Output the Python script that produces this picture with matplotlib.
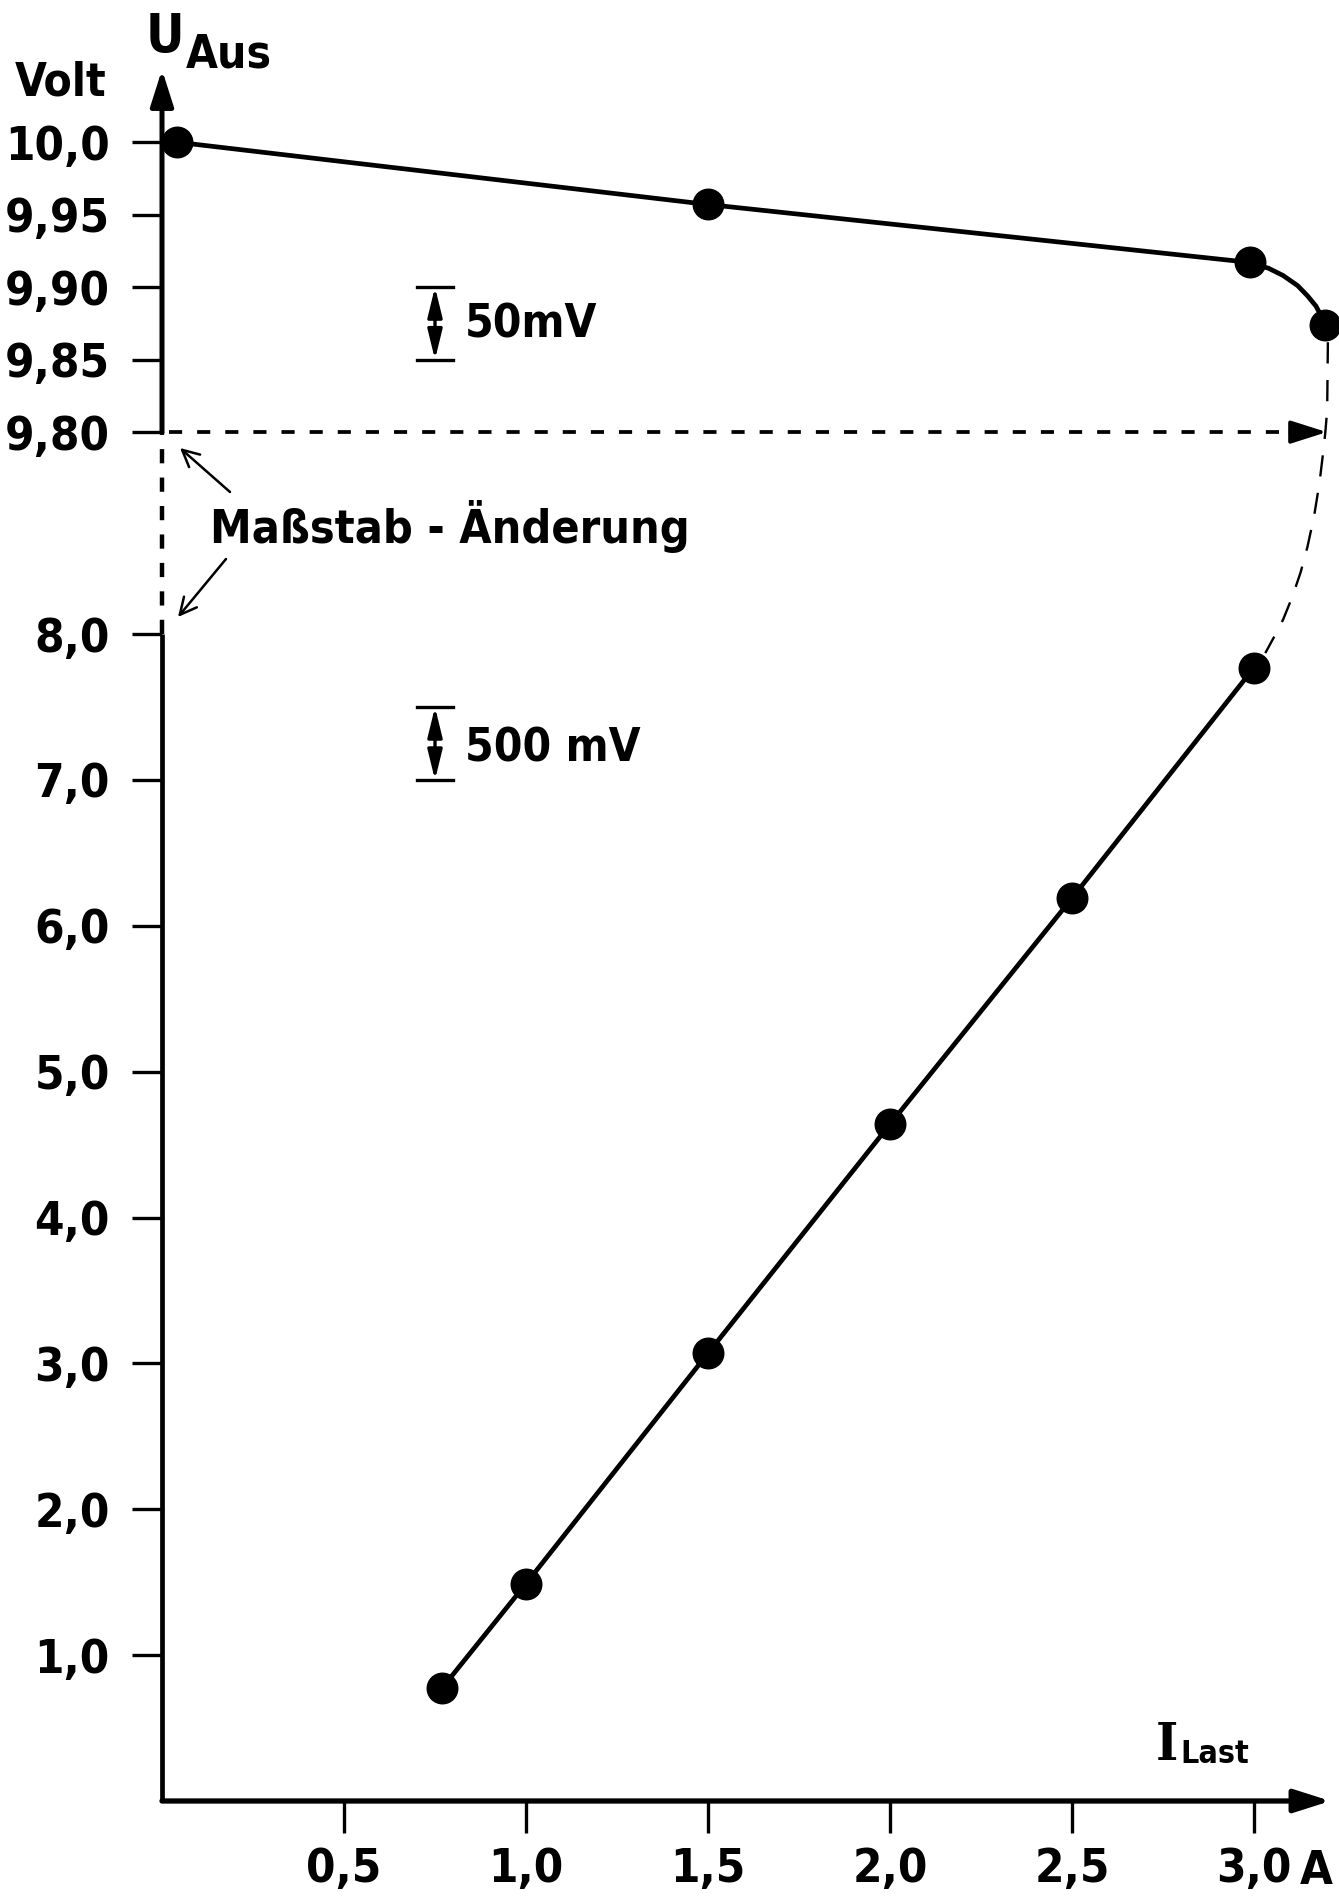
import matplotlib
matplotlib.use("Agg")
import matplotlib.pyplot as plt
from matplotlib import font_manager as fm
import numpy as np

# schmale Schrift, falls vorhanden
eintraege = fm.fontManager.ttflist
if any(f.name == 'DejaVu Sans Condensed' for f in eintraege):
    schrift = dict(family='DejaVu Sans Condensed', weight='bold')
    groesse = 1.0
elif any(f.name == 'DejaVu Sans' and f.stretch == 'condensed' for f in eintraege):
    schrift = dict(family='DejaVu Sans', stretch='condensed', weight='bold')
    groesse = 1.0
else:
    schrift = dict(family='DejaVu Sans', weight='normal')
    groesse = 1.0
plt.rcParams['font.family'] = [schrift['family'], 'DejaVu Sans']
plt.rcParams['font.weight'] = schrift['weight']
if 'stretch' in schrift:
    plt.rcParams['font.stretch'] = schrift['stretch']

# Messwerte: Ausgangsspannung U_Aus über Laststrom I_Last
# oberer Bereich (Regelung), Maßstab 50 mV
I_oben = [0.04, 1.5, 2.99, 3.195]
U_oben = [10.0, 9.957, 9.917, 9.874]
# Knick am Ende der Regelung
I_knick = [2.99, 3.04, 3.08, 3.12, 3.147, 3.17, 3.185, 3.195]
U_knick = [9.917, 9.913, 9.908, 9.901, 9.894, 9.887, 9.880, 9.874]
# unterer Bereich (Strombegrenzung), Maßstab 500 mV
I_unten = [0.77, 1.0, 1.5, 2.0, 2.5, 3.0]
U_unten = [0.776, 1.49, 3.07, 4.64, 6.19, 7.77]
# gestrichelter Übergang (geschätzt)
I_uebergang = [3.203, 3.201, 3.196, 3.190, 3.180, 3.165, 3.147, 3.128, 3.105, 3.080, 3.055, 3.031]
U_uebergang = [9.862, 9.815, 9.80, 9.62, 9.35, 9.05, 8.78, 8.55, 8.33, 8.13, 7.98, 7.87]

y_ticks = [1.0, 2.0, 3.0, 4.0, 5.0, 6.0, 7.0, 8.0, 9.80, 9.85, 9.90, 9.95, 10.0]
y_labels = ["1,0", "2,0", "3,0", "4,0", "5,0", "6,0", "7,0", "8,0",
            "9,80", "9,85", "9,90", "9,95", "10,0"]
x_ticks = [0.5, 1.0, 1.5, 2.0, 2.5, 3.0]
x_labels = ["0,5", "1,0", "1,5", "2,0", "2,5", "3,0"]

# Maßstab-Änderung: unter 8 V linear, dazwischen gestaucht, ab 9,80 V zehnfach
K = 0.7694
F98 = 8.0 + 1.8 * K
S = 9.94


def hin(u):
    u = np.asarray(u, dtype=float)
    return np.where(u <= 8.0, u,
                    np.where(u < 9.8, 8.0 + (u - 8.0) * K, F98 + (u - 9.8) * S))


def zurueck(v):
    v = np.asarray(v, dtype=float)
    return np.where(v <= 8.0, v,
                    np.where(v < F98, 8.0 + (v - 8.0) / K, 9.8 + (v - F98) / S))


W, H = 1339, 1898


def px(x, y):
    return x / W, 1 - y / H


fig = plt.figure(figsize=(W / 100, H / 100), dpi=100)
ax = fig.add_axes([162 / W, (H - 1801) / H, 1 - 162 / W, 1801 / H])
ax.patch.set_visible(False)
ax.set_yscale('function', functions=(hin, zurueck))
ax.set_xlim(0, (W - 162) / 364)
ax.set_ylim(0, float(zurueck(1801 / 145.86)))
for s in ax.spines.values():
    s.set_visible(False)

# Achsen
ax.plot([0, 0], [0, 8.0], color='k', lw=3.4, solid_capstyle='butt', clip_on=False)
ax.plot([0, 0], [8.0, 9.8], color='k', lw=3.2, ls=(0, (3.2, 3.2)), clip_on=False)
pfeil = dict(arrowstyle='-|>,head_length=1.1,head_width=0.35', color='k',
             lw=3.6, shrinkA=0, shrinkB=0, mutation_scale=20)
ax.annotate('', xy=(0, 10.05), xytext=(0, 9.8), arrowprops=pfeil, annotation_clip=False)
ax.annotate('', xy=(3.21, 0), xytext=(0, 0),
            arrowprops=dict(pfeil, lw=3.8), annotation_clip=False)
# gestrichelte Linie bei 9,80 V
ax.plot([0.02, 3.12], [9.8, 9.8], color='k', lw=2.7, ls=(0, (3.5, 4.0)), clip_on=False)
ax.annotate('', xy=(3.2, 9.8), xytext=(3.1, 9.8),
            arrowprops=dict(pfeil, lw=2.7), annotation_clip=False)

ax.set_yticks(y_ticks)
ax.set_yticklabels(y_labels)
ax.set_xticks(x_ticks)
ax.set_xticklabels(x_labels)
ax.tick_params(axis='y', direction='out', length=21.6, width=2.4, pad=16, labelsize=34 * groesse)
ax.tick_params(axis='x', direction='out', length=23, width=2.4, pad=10, labelsize=34 * groesse)

# Kennlinien
ax.plot(I_oben[:3], U_oben[:3], color='k', lw=3.4, clip_on=False)
ax.plot(I_knick, U_knick, color='k', lw=3.4, clip_on=False)
ax.plot(I_unten, U_unten, color='k', lw=3.4, clip_on=False)
ax.plot(I_uebergang, U_uebergang, color='k', lw=1.7, ls=(0, (9, 7)), clip_on=False)
ax.plot(I_oben, U_oben, 'o', color='k', ms=22, clip_on=False, zorder=3)
ax.plot(I_unten, U_unten, 'o', color='k', ms=22, clip_on=False, zorder=3)

# Maßstabsbalken
for u0, u1 in [(9.85, 9.90), (7.0, 7.5)]:
    ax.annotate('', xy=(0.75, u1), xytext=(0.75, u0),
                arrowprops=dict(arrowstyle='<|-|>,head_length=0.9,head_width=0.22',
                                color='k', lw=2.4, shrinkA=0, shrinkB=0, mutation_scale=20))
    ax.plot([0.70, 0.80], [u0, u0], color='k', lw=2.4)
    ax.plot([0.70, 0.80], [u1, u1], color='k', lw=2.4)

fig.text(*px(465, 338), '50mV', fontsize=33 * groesse, va='baseline')
fig.text(*px(465, 762), '500 mV', fontsize=33 * groesse, va='baseline')

# Beschriftungen
fig.text(*px(15, 96), 'Volt', fontsize=33 * groesse, va='baseline')
fig.text(*px(146, 52), 'U', fontsize=38 * groesse, va='baseline')
fig.text(*px(186, 68), 'Aus', fontsize=33 * groesse, va='baseline')
fig.text(*px(1156, 1760), 'I', fontsize=38, va='baseline', family='DejaVu Serif', weight='bold')
fig.text(*px(1180, 1763), 'Last', fontsize=23 * groesse, va='baseline')
fig.text(*px(1300, 1884), 'A', fontsize=34 * groesse, va='baseline')
fig.text(*px(210, 543), 'Maßstab - Änderung', fontsize=33.5 * groesse, va='baseline')

pf = dict(arrowstyle='->,head_length=0.6,head_width=0.3', color='k', lw=1.8,
          shrinkA=0, shrinkB=0, mutation_scale=20)
ax.annotate('', xy=(180, H - 448), xytext=(230, H - 492), xycoords='figure pixels',
            textcoords='figure pixels', arrowprops=pf)
ax.annotate('', xy=(178, H - 617), xytext=(226, H - 559), xycoords='figure pixels',
            textcoords='figure pixels', arrowprops=pf)

fig.savefig('out.png', dpi=100)
